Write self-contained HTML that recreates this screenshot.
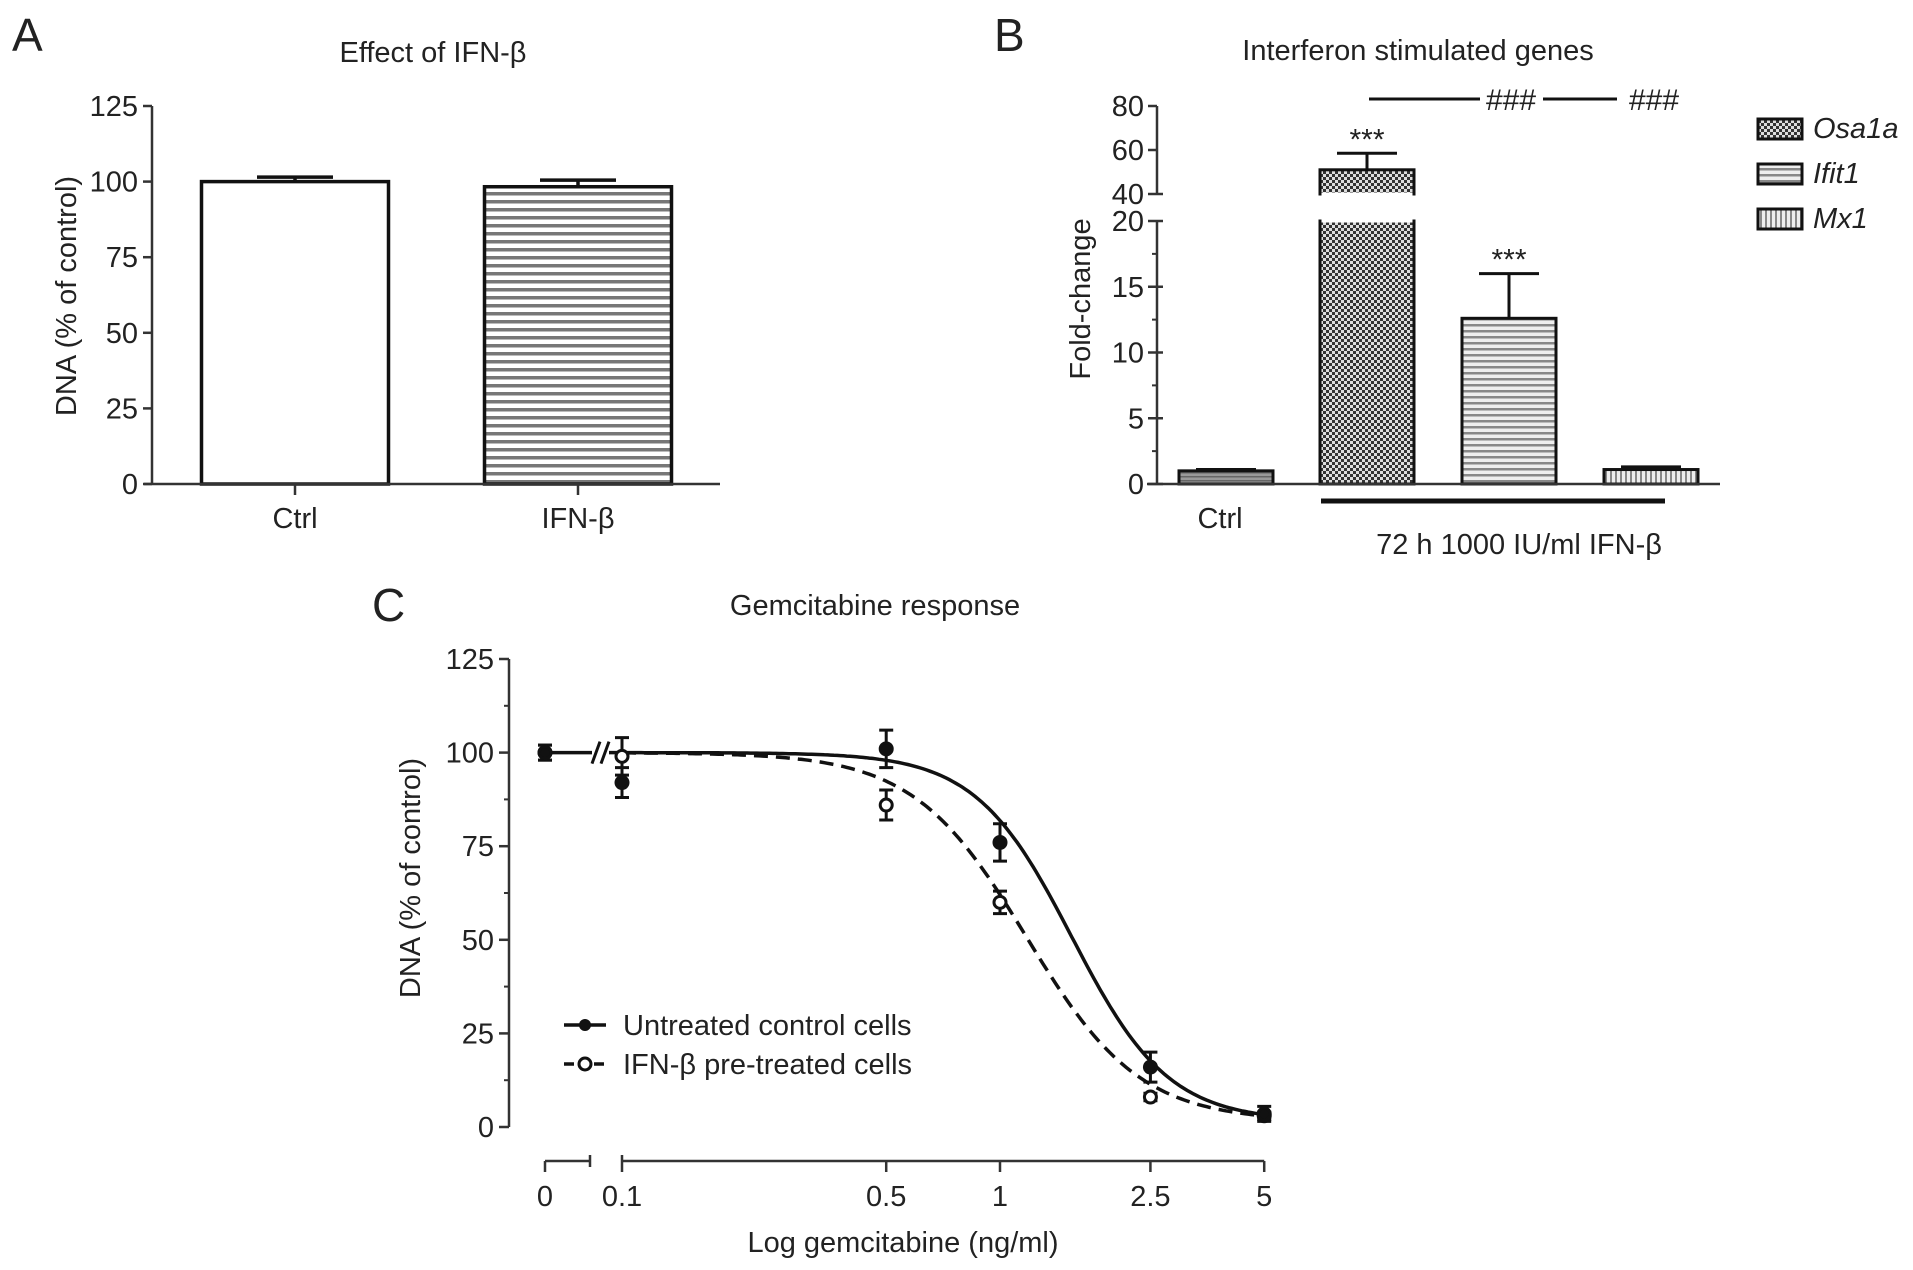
<!DOCTYPE html>
<html><head><meta charset="utf-8"><title>IFN-β figure</title>
<style>
html,body{margin:0;padding:0;background:#fff;}
svg{display:block;font-family:"Liberation Sans",Arial,sans-serif;}
text{fill:#222;}
</style></head>
<body>
<svg id="fig" width="1913" height="1270" viewBox="0 0 1913 1270" xmlns="http://www.w3.org/2000/svg">
<defs>
<pattern id="hstripe" width="8" height="8" patternUnits="userSpaceOnUse"><rect width="8" height="8" fill="#fff"/><rect y="0" width="8" height="3.5" fill="#777"/></pattern>
<pattern id="hstripeB" width="6" height="6" patternUnits="userSpaceOnUse"><rect width="6" height="6" fill="#eee"/><rect y="0" width="6" height="2.5" fill="#888"/></pattern>
<pattern id="vstripe" width="5" height="5" patternUnits="userSpaceOnUse"><rect width="5" height="5" fill="#eee"/><rect x="0" width="2" height="5" fill="#888"/></pattern>
<pattern id="checker" width="6" height="6" patternUnits="userSpaceOnUse"><rect width="6" height="6" fill="#ddd"/><rect width="3" height="3" fill="#333"/><rect x="3" y="3" width="3" height="3" fill="#333"/></pattern>
<pattern id="ctrlB" width="4" height="4" patternUnits="userSpaceOnUse"><rect width="4" height="4" fill="#999"/><rect width="4" height="1.5" fill="#666"/></pattern>
</defs>
<g id="panelA"></g>
<g id="panelB"></g>
<g id="panelC"></g>
</svg>
<script>
// ---------- Panel A data ----------
const aCategories = ["Ctrl", "IFN-β"];
const aValues = [100, 98.3];
const aErrors = [1.5, 2.2];
const aTicks = [0, 25, 50, 75, 100, 125];

// ---------- Panel B data ----------
const bCategories = ["Ctrl", "Osa1a", "Ifit1", "Mx1"];
const bValues = [1.0, 51, 12.6, 1.1];
const bErrors = [0.1, 7.5, 3.4, 0.2];
const bLowTicks = [0, 5, 10, 15, 20];
const bHighTicks = [40, 60, 80];
const bLegend = ["Osa1a", "Ifit1", "Mx1"];

// ---------- Panel C data ----------
const cDoses = [0, 0.1, 0.5, 1, 2.5, 5];
const cControl = [100, 92, 101, 76, 16, 3.5];
const cControlErr = [2, 4, 5, 5, 4, 2];
const cIFN = [100, 99, 86, 60, 8, 3];
const cIFNErr = [2, 5, 4, 3, 1, 1];
const cFitControl = [100, 1.5, 0.19, 3.4];   // top, bottom, logEC50, hill
const cFitIFN = [100, 1.5, 0.07, 2.9];
const cYTicks = [0, 25, 50, 75, 100, 125];
const cXTickLabels = ["0", "0.1", "0.5", "1", "2.5", "5"];

const NS = "http://www.w3.org/2000/svg";
function el(parent, tag, attrs, txt) {
  const e = document.createElementNS(NS, tag);
  for (const k in attrs) e.setAttribute(k, attrs[k]);
  if (txt !== undefined) e.textContent = txt;
  parent.appendChild(e);
  return e;
}
const FS = 29;

// ================= PANEL A =================
(function(){
  const g = document.getElementById("panelA");
  const yA = v => 484 - (v / 125) * (484 - 106);
  const xA = [295, 578];
  const bw = 187;
  let t = el(g, "text", {x: 12, y: 51, "font-size": 46}, "A");
   
  t = el(g, "text", {x: 433, y: 62, "font-size": FS, "text-anchor": "middle"}, "Effect of IFN-β");
   
  const ax = el(g, "g", {});
   
  el(ax, "line", {x1: 152, y1: yA(125), x2: 152, y2: yA(0), stroke: "#333", "stroke-width": 2.5});
  aTicks.forEach(v => {
    el(ax, "line", {x1: 143, y1: yA(v), x2: 152, y2: yA(v), stroke: "#333", "stroke-width": 2.5});
    const tl = el(ax, "text", {x: 138, y: yA(v) + 10, "font-size": FS, "text-anchor": "end"}, v);
     
  });
  t = el(g, "text", {x: 0, y: 0, "font-size": FS, "text-anchor": "middle", transform: "translate(76,296) rotate(-90)"}, "DNA (% of control)");
   
  aCategories.forEach((c, i) => {
    const x = xA[i];
    const bar = el(g, "rect", {x: x - bw/2, y: yA(aValues[i]), width: bw, height: yA(0) - yA(aValues[i]), fill: i === 0 ? "#fff" : "url(#hstripe)", stroke: "#111", "stroke-width": 3.5});
    
    
    const eb = el(g, "path", {d: `M${x},${yA(aValues[i])} V${yA(aValues[i]+aErrors[i])} M${x-38},${yA(aValues[i]+aErrors[i])} H${x+38}`, stroke: "#111", "stroke-width": 3.5, fill: "none"});
     
    el(g, "line", {x1: x, y1: yA(0), x2: x, y2: yA(0) + 11, stroke: "#333", "stroke-width": 2.5});
    const tl = el(g, "text", {x: x, y: 528, "font-size": FS, "text-anchor": "middle"}, c);
     
  });
  const xl = el(g, "line", {x1: 144, y1: yA(0), x2: 720, y2: yA(0), stroke: "#333", "stroke-width": 2.5});
   
})();

// ================= PANEL B =================
(function(){
  const g = document.getElementById("panelB");
  const y0 = 484, y20 = 221, y40 = 194, y80 = 106;
  const yLow = v => y0 - (v / 20) * (y0 - y20);
  const yHigh = v => y40 - ((v - 40) / 40) * (y40 - y80);
  const yB = v => v <= 20 ? yLow(v) : yHigh(v);
  const xs = [1226, 1367, 1509, 1651];
  const bw = 94;
  const fills = ["url(#ctrlB)", "url(#checker)", "url(#hstripeB)", "url(#vstripe)"];
  let t = el(g, "text", {x: 994, y: 51, "font-size": 46}, "B");
   
  t = el(g, "text", {x: 1418, y: 60, "font-size": FS, "text-anchor": "middle"}, "Interferon stimulated genes");
   
  const ax = el(g, "g", {});
   
  el(ax, "line", {x1: 1157, y1: y0, x2: 1157, y2: y20, stroke: "#333", "stroke-width": 2.5});
  el(ax, "line", {x1: 1157, y1: y40, x2: 1157, y2: y80, stroke: "#333", "stroke-width": 2.5});
  bLowTicks.forEach(v => {
    el(ax, "line", {x1: 1148, y1: yLow(v), x2: 1163, y2: yLow(v), stroke: "#333", "stroke-width": 2.5});
    const tl = el(ax, "text", {x: 1144, y: yLow(v) + 10, "font-size": FS, "text-anchor": "end"}, v);
     
  });
  [2.5, 7.5, 12.5, 17.5].forEach(v => el(ax, "line", {x1: 1152, y1: yLow(v), x2: 1157, y2: yLow(v), stroke: "#333", "stroke-width": 2}));
  bHighTicks.forEach(v => {
    el(ax, "line", {x1: 1148, y1: yHigh(v), x2: v === 40 ? 1163 : 1157, y2: yHigh(v), stroke: "#333", "stroke-width": 2.5});
    const tl = el(ax, "text", {x: 1144, y: yHigh(v) + 10, "font-size": FS, "text-anchor": "end"}, v);
     
  });
  t = el(g, "text", {x: 0, y: 0, "font-size": FS, "text-anchor": "middle", transform: "translate(1090,299) rotate(-90)"}, "Fold-change");
   
  bCategories.forEach((c, i) => {
    const x = xs[i], v = bValues[i], e = bErrors[i];
    const bg = el(g, "g", {});
    
    
    if (v > 20) {
      el(bg, "rect", {x: x - bw/2, y: yLow(20), width: bw, height: y0 - yLow(20), fill: fills[i], stroke: "#111", "stroke-width": 3});
      el(bg, "line", {x1: x - bw/2 + 1.5, y1: yLow(20), x2: x + bw/2 - 1.5, y2: yLow(20), stroke: "#fff", "stroke-width": 3});
      el(bg, "rect", {x: x - bw/2, y: yHigh(v), width: bw, height: yHigh(40) - yHigh(v), fill: fills[i], stroke: "#111", "stroke-width": 3});
      el(bg, "line", {x1: x - bw/2 + 1.5, y1: yHigh(40), x2: x + bw/2 - 1.5, y2: yHigh(40), stroke: "#fff", "stroke-width": 3});
    } else {
      el(bg, "rect", {x: x - bw/2, y: yB(v), width: bw, height: y0 - yB(v), fill: fills[i], stroke: "#111", "stroke-width": 3});
    }
    const eb = el(g, "path", {d: `M${x},${yB(v)} V${yB(v+e)} M${x-30},${yB(v+e)} H${x+30}`, stroke: "#111", "stroke-width": 3, fill: "none"});
     
    if (i === 1 || i === 2) {
      const st = el(g, "text", {x: x, y: yB(v+e) - 4, "font-size": 30, "text-anchor": "middle"}, "***");
       
    }
  });
  const xl = el(g, "line", {x1: 1147, y1: y0, x2: 1720, y2: y0, stroke: "#333", "stroke-width": 2.5});
   
  const br = el(g, "line", {x1: 1321, y1: 501, x2: 1665, y2: 501, stroke: "#111", "stroke-width": 5});
   
  t = el(g, "text", {x: 1220, y: 528, "font-size": FS, "text-anchor": "middle"}, "Ctrl");
   
  t = el(g, "text", {x: 1519, y: 554, "font-size": FS, "text-anchor": "middle"}, "72 h 1000 IU/ml IFN-β");
   
  const sg = el(g, "g", {});
   
  el(sg, "line", {x1: 1369, y1: 99, x2: 1480, y2: 99, stroke: "#111", "stroke-width": 3});
  el(sg, "text", {x: 1511, y: 110, "font-size": 30, "text-anchor": "middle"}, "###");
  el(sg, "line", {x1: 1543, y1: 99, x2: 1617, y2: 99, stroke: "#111", "stroke-width": 3});
  el(sg, "text", {x: 1654, y: 110, "font-size": 30, "text-anchor": "middle"}, "###");
  const lg = el(g, "g", {});
   
  bLegend.forEach((name, i) => {
    const yy = 119 + i * 45;
    const eg = el(lg, "g", {});
    
    
    el(eg, "rect", {x: 1758, y: yy, width: 44, height: 20, fill: fills[i+1], stroke: "#111", "stroke-width": 3});
    el(eg, "text", {x: 1813, y: yy + 19, "font-size": FS, "font-style": "italic"}, name);
  });
})();

// ================= PANEL C =================
(function(){
  const g = document.getElementById("panelC");
  const yC = v => 1127 - (v / 125) * (1127 - 659);
  const xC = d => d === 0 ? 545 : 1000 + Math.log10(d) * 378;
  let t = el(g, "text", {x: 372, y: 621, "font-size": 46}, "C");
   
  t = el(g, "text", {x: 875, y: 615, "font-size": FS, "text-anchor": "middle"}, "Gemcitabine response");
   
  const ax = el(g, "g", {});
   
  el(ax, "line", {x1: 509, y1: yC(125), x2: 509, y2: yC(0), stroke: "#333", "stroke-width": 2.5});
  cYTicks.forEach(v => {
    el(ax, "line", {x1: 499, y1: yC(v), x2: 509, y2: yC(v), stroke: "#333", "stroke-width": 2.5});
    const tl = el(ax, "text", {x: 494, y: yC(v) + 10, "font-size": FS, "text-anchor": "end"}, v);
     
  });
  [12.5, 37.5, 62.5, 87.5, 112.5].forEach(v => el(ax, "line", {x1: 504, y1: yC(v), x2: 509, y2: yC(v), stroke: "#333", "stroke-width": 2}));
  t = el(g, "text", {x: 0, y: 0, "font-size": FS, "text-anchor": "middle", transform: "translate(420,878) rotate(-90)"}, "DNA (% of control)");
   
  const xa = el(g, "g", {});
   
  const ya = 1161;
  el(xa, "line", {x1: 545, y1: ya, x2: 590, y2: ya, stroke: "#333", "stroke-width": 2.5});
  el(xa, "line", {x1: 545, y1: ya, x2: 545, y2: ya + 11, stroke: "#333", "stroke-width": 2.5});
  el(xa, "line", {x1: 590, y1: ya - 6, x2: 590, y2: ya + 6, stroke: "#333", "stroke-width": 2.5});
  el(xa, "line", {x1: xC(0.1), y1: ya, x2: xC(5), y2: ya, stroke: "#333", "stroke-width": 2.5});
  el(xa, "line", {x1: xC(0.1), y1: ya - 6, x2: xC(0.1), y2: ya + 11, stroke: "#333", "stroke-width": 2.5});
  cDoses.forEach((d, i) => {
    if (i > 1) el(xa, "line", {x1: xC(d), y1: ya, x2: xC(d), y2: ya + 11, stroke: "#333", "stroke-width": 2.5});
    const tl = el(xa, "text", {x: xC(d), y: 1206, "font-size": FS, "text-anchor": "middle"}, cXTickLabels[i]);
     
  });
  t = el(g, "text", {x: 903, y: 1252, "font-size": FS, "text-anchor": "middle"}, "Log gemcitabine (ng/ml)");
   
  function curve(p) {
    let d = "";
    for (let k = 0; k <= 200; k++) {
      const lx = -1 + k * (Math.log10(5) + 1) / 200;
      const v = p[1] + (p[0] - p[1]) / (1 + Math.pow(10, (lx - p[2]) * p[3]));
      d += (k ? "L" : "M") + (1000 + lx * 378).toFixed(1) + "," + yC(v).toFixed(1);
    }
    return d;
  }
  const c1 = el(g, "path", {d: curve(cFitControl), fill: "none", stroke: "#111", "stroke-width": 3.5});
   
  const c2 = el(g, "path", {d: curve(cFitIFN), fill: "none", stroke: "#111", "stroke-width": 3.5, "stroke-dasharray": "14,8"});
   
  const zc = el(g, "g", {});
   
  el(zc, "line", {x1: xC(0), y1: yC(cControl[0]), x2: 592, y2: yC(cControl[0]), stroke: "#111", "stroke-width": 3.5});
  el(zc, "line", {x1: 592, y1: yC(cControl[0]) + 11, x2: 600, y2: yC(cControl[0]) - 11, stroke: "#111", "stroke-width": 3});
  el(zc, "line", {x1: 601, y1: yC(cControl[0]) + 11, x2: 609, y2: yC(cControl[0]) - 11, stroke: "#111", "stroke-width": 3});
  el(zc, "line", {x1: 609, y1: yC(cControl[0]), x2: xC(0.1), y2: yC(cControl[0]), stroke: "#111", "stroke-width": 3.5});
  function series(vals, errs, open, name) {
    const sg = el(g, "g", {});
     
    cDoses.forEach((d, i) => {
      const x = xC(d), v = vals[i], e = errs[i];
      const eb = el(sg, "path", {d: `M${x},${yC(v-e)} V${yC(v+e)} M${x-7},${yC(v-e)} H${x+7} M${x-7},${yC(v+e)} H${x+7}`, stroke: "#111", "stroke-width": 3, fill: "none"});
       
      const pt = el(sg, "circle", {cx: x, cy: yC(v), r: 6, fill: open ? "#fff" : "#111", stroke: "#111", "stroke-width": 3});
       
    });
  }
  series(cIFN, cIFNErr, true, "ifn-series");
  series(cControl, cControlErr, false, "control-series");
  const lg = el(g, "g", {});
   
  const e1 = el(lg, "g", {});
   
  el(e1, "line", {x1: 564, y1: 1025, x2: 606, y2: 1025, stroke: "#111", "stroke-width": 3.5});
  el(e1, "circle", {cx: 585, cy: 1025, r: 6, fill: "#111"});
  el(e1, "text", {x: 623, y: 1035, "font-size": FS}, "Untreated control cells");
  const e2 = el(lg, "g", {});
   
  el(e2, "line", {x1: 564, y1: 1064, x2: 606, y2: 1064, stroke: "#111", "stroke-width": 3.5, "stroke-dasharray": "10,5"});
  el(e2, "circle", {cx: 585, cy: 1064, r: 6, fill: "#fff", stroke: "#111", "stroke-width": 3});
  el(e2, "text", {x: 623, y: 1074, "font-size": FS}, "IFN-β pre-treated cells");
})();
</script>
</body></html>
